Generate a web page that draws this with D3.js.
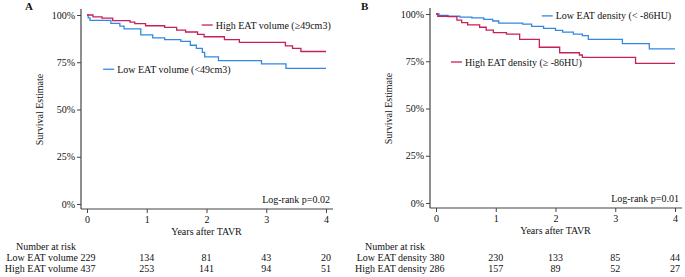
<!DOCTYPE html>
<html>
<head>
<meta charset="utf-8">
<script src="https://cdn.jsdelivr.net/npm/d3@7"></script>
<style>
  body { margin: 0; background: #fff; }
  text { font-family: "Liberation Serif", "Times New Roman", serif; fill: #111; }
</style>
</head>
<body>
<div id="chart"></div>
<script>
// years after TAVR ticks + at-risk table
const yearTicks = [0, 1, 2, 3, 4];
const survTicks = [0, 0.25, 0.5, 0.75, 1];

// panel A - EAT volume (time in years, survival fraction)
const aLowTime = [0, 0.02, 0.05, 0.4, 0.55, 0.62, 0.9, 1.1, 1.3, 1.57, 1.73, 1.83, 1.93, 1.97, 2.2, 2.92, 3.33, 4];
const aLowSurv = [1, 0.985, 0.972, 0.956, 0.941, 0.927, 0.895, 0.879, 0.87, 0.86, 0.84, 0.823, 0.802, 0.778, 0.759, 0.741, 0.718, 0.718];
const aHighTime = [0, 0.1, 0.25, 0.43, 0.72, 0.8, 0.98, 1.3, 1.5, 1.65, 1.85, 1.96, 2.3, 2.55, 3.32, 3.44, 3.58, 4];
const aHighSurv = [1, 0.99, 0.983, 0.97, 0.962, 0.954, 0.943, 0.935, 0.92, 0.91, 0.897, 0.885, 0.87, 0.855, 0.837, 0.823, 0.807, 0.807];
const aLowRisk = [229, 134, 81, 43, 20];
const aHighRisk = [437, 253, 141, 94, 51];

// panel B - EAT density
const bLowTime = [0, 0.05, 0.2, 0.4, 0.6, 0.8, 0.95, 1.05, 1.45, 1.6, 1.8, 2.0, 2.12, 2.3, 2.45, 2.55, 3.12, 3.57, 4];
const bLowSurv = [1, 0.993, 0.988, 0.983, 0.979, 0.972, 0.963, 0.952, 0.946, 0.935, 0.924, 0.913, 0.904, 0.894, 0.886, 0.866, 0.843, 0.815, 0.815];
const bHighTime = [0, 0.03, 0.2, 0.35, 0.43, 0.53, 0.73, 0.84, 0.96, 1.18, 1.4, 1.73, 2.07, 2.4, 2.45, 3.34, 4];
const bHighSurv = [1, 0.988, 0.986, 0.968, 0.954, 0.942, 0.93, 0.915, 0.901, 0.894, 0.866, 0.824, 0.795, 0.783, 0.771, 0.739, 0.739];
const bLowRisk = [380, 230, 133, 85, 44];
const bHighRisk = [286, 157, 89, 52, 27];

const red = "#c61f5b";
const blue = "#3288e2";

const svg = d3.select("#chart").append("svg")
  .attr("width", 685).attr("height", 277);

function drawPanel(p) {
  const x = d3.scaleLinear().domain([0, 4]).range([p.x0, p.x0 + 239]);
  const y = d3.scaleLinear().domain([0, 1]).range([p.y0, p.y0 - 189]);
  const g = svg.append("g");
  const axisX = p.x0 - 6, axisY = p.y0 + 5;

  // axis lines (stata style, meeting at the corner)
  g.append("line").attr("x1", axisX).attr("x2", axisX)
    .attr("y1", y(1) - 6).attr("y2", axisY)
    .attr("stroke", "#444").attr("stroke-width", 1.2);
  g.append("line").attr("x1", axisX).attr("x2", x(4) + 7)
    .attr("y1", axisY).attr("y2", axisY)
    .attr("stroke", "#444").attr("stroke-width", 1.2);

  const yAxis = d3.axisLeft(y).tickValues(survTicks)
    .tickFormat(d => Math.round(d * 100) + "%").tickSize(4).tickPadding(2);
  const ya = g.append("g").attr("transform", `translate(${axisX},0)`).call(yAxis);
  ya.select(".domain").remove();

  const xAxis = d3.axisBottom(x).tickValues(yearTicks)
    .tickFormat(d3.format("d")).tickSize(4).tickPadding(3);
  const xa = g.append("g").attr("transform", `translate(0,${axisY})`).call(xAxis);
  xa.select(".domain").remove();

  g.selectAll(".tick line").attr("stroke", "#444");
  g.selectAll(".tick text").attr("font-size", 10)
    .style("font-family", '"Liberation Serif", serif').attr("fill", "#111");

  g.append("text").attr("x", (x(0) + x(4)) / 2).attr("y", axisY + 26)
    .attr("text-anchor", "middle").attr("font-size", 10).text("Years after TAVR");

  g.append("text")
    .attr("transform", `translate(${axisX - 38},${(y(0) + y(1)) / 2}) rotate(-90)`)
    .attr("text-anchor", "middle").attr("font-size", 10).text("Survival Estimate");

  g.append("text").attr("x", p.labelX).attr("y", 10)
    .attr("font-size", 11).attr("font-weight", "bold").text(p.name);

  g.append("text").attr("x", x(4) + 4).attr("y", y(0) - 1)
    .attr("text-anchor", "end").attr("font-size", 10).text(p.pval);

  const line = d3.line().curve(d3.curveStepAfter)
    .x(d => x(d[0])).y(d => y(d[1]));
  p.series.forEach(s => {
    g.append("path").datum(d3.zip(s.time, s.surv))
      .attr("d", line).attr("fill", "none")
      .attr("stroke", s.color).attr("stroke-width", 1.3);
    const lx = x(s.legX), ly = y(s.legY);
    g.append("line").attr("x1", lx).attr("x2", lx + 11)
      .attr("y1", ly).attr("y2", ly)
      .attr("stroke", s.color).attr("stroke-width", 1.3);
    g.append("text").attr("x", lx + 14).attr("y", ly + 3.5)
      .attr("font-size", 10).text(s.label);
  });

  // number at risk table
  g.append("text").attr("x", p.x0 - 11).attr("y", 250)
    .attr("text-anchor", "end").attr("font-size", 10).text("Number at risk");
  p.series.forEach((s, i) => {
    const ry = 261 + i * 11;
    g.append("text").attr("x", p.x0 - 9).attr("y", ry)
      .attr("text-anchor", "end").attr("font-size", 10).text(s.riskLabel);
    g.selectAll(null).data(s.risk).enter().append("text")
      .attr("x", (d, j) => x(yearTicks[j]) + (j === 0 ? 1 : 0))
      .attr("y", ry).attr("text-anchor", "middle").attr("font-size", 10)
      .text(d => d);
  });
}

drawPanel({
  name: "A", labelX: 25, x0: 87, y0: 204, pval: "Log-rank p=0.02",
  series: [
    { time: aHighTime, surv: aHighSurv, color: red, label: "High EAT volume (\u226549cm3)",
      legX: 1.92, legY: 0.947, risk: aHighRisk, riskLabel: "High EAT volume" },
    { time: aLowTime, surv: aLowSurv, color: blue, label: "Low EAT volume (<49cm3)",
      legX: 0.27, legY: 0.713, risk: aLowRisk, riskLabel: "Low EAT volume" }
  ].reverse()
});

drawPanel({
  name: "B", labelX: 361, x0: 436, y0: 203, pval: "Log-rank p=0.01",
  series: [
    { time: bLowTime, surv: bLowSurv, color: blue, label: "Low EAT density (< -86HU)",
      legX: 1.77, legY: 0.99, risk: bLowRisk, riskLabel: "Low EAT density" },
    { time: bHighTime, surv: bHighSurv, color: red, label: "High EAT density (\u2265 -86HU)",
      legX: 0.25, legY: 0.746, risk: bHighRisk, riskLabel: "High EAT density" }
  ]
});
</script>
</body>
</html>
